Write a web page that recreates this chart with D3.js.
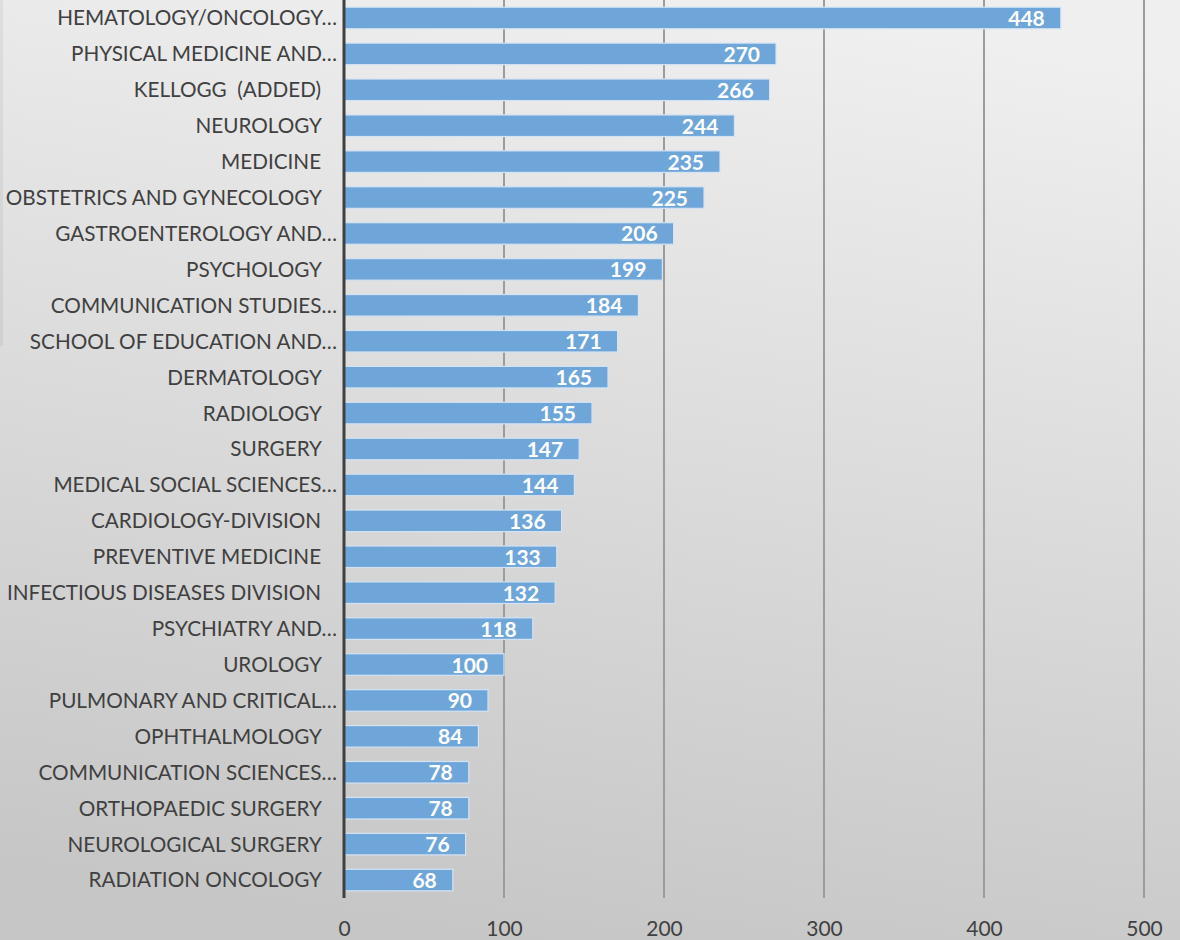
<!doctype html>
<html>
<head>
<meta charset="UTF-8">
<title>Departments</title>
<script src="https://d3js.org/d3.v7.min.js"></script>
<style>
  body { margin: 0; }
  svg text { font-family: Lato, "Open Sans", sans-serif; white-space: pre; }
</style>
</head>
<body>
<svg id="chart" width="1180" height="940"></svg>
<script>
    var categories = [
        "HEMATOLOGY/ONCOLOGY…", "PHYSICAL MEDICINE AND…", "KELLOGG  (ADDED)   ", "NEUROLOGY   ",
        "MEDICINE   ", "OBSTETRICS AND GYNECOLOGY   ", "GASTROENTEROLOGY AND…", "PSYCHOLOGY   ",
        "COMMUNICATION STUDIES…", "SCHOOL OF EDUCATION AND…", "DERMATOLOGY   ", "RADIOLOGY   ",
        "SURGERY   ", "MEDICAL SOCIAL SCIENCES…", "CARDIOLOGY-DIVISION   ", "PREVENTIVE MEDICINE   ",
        "INFECTIOUS DISEASES DIVISION   ", "PSYCHIATRY AND…", "UROLOGY   ", "PULMONARY AND CRITICAL…",
        "OPHTHALMOLOGY   ", "COMMUNICATION SCIENCES…", "ORTHOPAEDIC SURGERY   ", "NEUROLOGICAL SURGERY   ",
        "RADIATION ONCOLOGY   "
    ];
    var values = [448, 270, 266, 244, 235, 225, 206, 199, 184, 171, 165, 155, 147, 144, 136, 133, 132, 118, 100, 90, 84, 78, 78, 76, 68];
    var ticks = [0, 100, 200, 300, 400, 500];

    var w = 1180, h = 940;
    var svg = d3.select("#chart");

    // background
    var defs = svg.append("defs");
    var grad = defs.append("linearGradient")
        .attr("id", "bg")
        .attr("x1", "0.6").attr("y1", "0")
        .attr("x2", "0.4").attr("y2", "1");
    grad.append("stop").attr("offset", "0").attr("stop-color", "#efefef");
    grad.append("stop").attr("offset", "1").attr("stop-color", "#c6c6c6");
    svg.append("rect").attr("width", w).attr("height", h).attr("fill", "url(#bg)");
    svg.append("rect").attr("x", 0).attr("y", 0).attr("width", 3).attr("height", 346)
        .attr("fill", "#000").attr("opacity", 0.05);

    var x = d3.scaleLinear().domain([0, 500]).range([344, 1144]);
    var y = d3.scaleBand().domain(categories).range([0, 898]).paddingInner(0.4).paddingOuter(0.2);

    // gridlines
    svg.append("g").selectAll("line")
        .data(ticks.slice(1))
        .enter().append("line")
        .attr("x1", function (d) { return x(d); })
        .attr("x2", function (d) { return x(d); })
        .attr("y1", 0).attr("y2", 898)
        .attr("stroke", "#9c9c9c").attr("stroke-width", 2);

    // bars
    svg.append("g").selectAll("rect")
        .data(values)
        .enter().append("rect")
        .attr("x", x(0))
        .attr("y", function (d, i) { return y(categories[i]); })
        .attr("width", function (d) { return x(d) - x(0); })
        .attr("height", y.bandwidth())
        .attr("fill", "#6fa6da")
        .attr("stroke", "#d4e3f2")
        .attr("stroke-width", 1.2);

    // value labels
    svg.append("g").selectAll("text")
        .data(values)
        .enter().append("text")
        .attr("x", function (d) { return x(d) - 16; })
        .attr("y", function (d, i) { return y(categories[i]) + y.bandwidth() / 2; })
        .attr("dy", "0.38em")
        .attr("text-anchor", "end")
        .attr("font-size", 21)
        .attr("font-weight", "bold")
        .attr("fill", "#ffffff")
        .text(function (d) { return d; });

    // category labels
    svg.append("g").selectAll("text")
        .data(categories)
        .enter().append("text")
        .attr("x", 337)
        .attr("y", function (d) { return y(d) + y.bandwidth() / 2; })
        .attr("dy", "0.36em")
        .attr("text-anchor", "end")
        .attr("font-size", 20.7)
        .attr("fill", "#404040")
        .text(function (d) { return d; });

    // zero axis
    svg.append("line")
        .attr("x1", x(0)).attr("x2", x(0))
        .attr("y1", 0).attr("y2", 898)
        .attr("stroke", "#404040").attr("stroke-width", 3);

    // x tick labels
    var axis = d3.axisBottom(x).tickValues(ticks).tickSize(0).tickPadding(0);
    var gx = svg.append("g").attr("transform", "translate(0,921)").call(axis);
    gx.select(".domain").remove();
    gx.selectAll("text")
        .attr("font-family", "Lato, 'Open Sans', sans-serif")
        .attr("font-size", 21)
        .attr("fill", "#404040");
</script>
</body>
</html>
